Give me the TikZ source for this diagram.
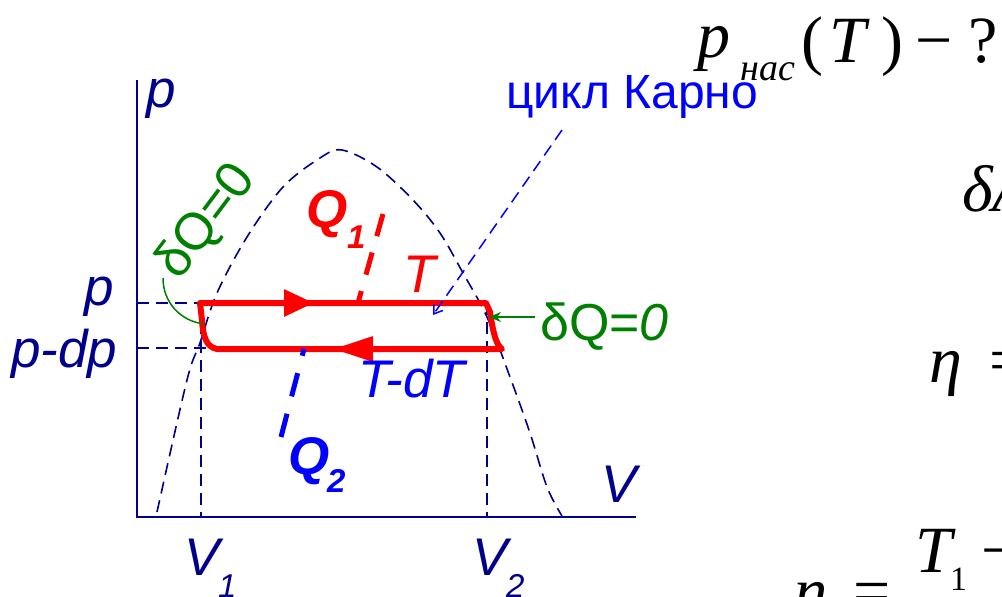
\documentclass[tikz,border=0pt]{standalone}
\usepackage{fontspec}
\setmainfont{Liberation Serif}
\newfontfamily\labf{Liberation Sans}
\usetikzlibrary{arrows.meta}
\definecolor{navyc}{RGB}{0,0,140}
\definecolor{blu}{RGB}{0,0,255}
\definecolor{grn}{RGB}{0,128,0}
\definecolor{rd}{RGB}{255,0,0}
\begin{document}
\begin{tikzpicture}[x=1pt,y=-1pt,
  lab/.style={inner sep=0pt, anchor=base west, font=\labf\itshape\fontsize{53}{60}\selectfont},
  sublab/.style={inner sep=0pt, anchor=base west, font=\labf\itshape\fontsize{33}{40}\selectfont},
  qlab/.style={inner sep=0pt, anchor=base west, font=\labf\bfseries\itshape\fontsize{53}{60}\selectfont},
  qsub/.style={inner sep=0pt, anchor=base west, font=\labf\bfseries\itshape\fontsize{33}{40}\selectfont},
  axisline/.style={navyc, line width=2.5pt},
  guide/.style={navyc, line width=1.6pt, dash pattern=on 12pt off 7pt},
  cycleline/.style={rd, line width=6pt, line join=round},
  heatline/.style={line width=5pt, dash pattern=on 23pt off 17pt},
  thinarrow/.style={line width=1.5pt},
  frm/.style={inner sep=0pt, anchor=base west, font=\fontsize{66}{70}\selectfont},
  frmsub/.style={inner sep=0pt, anchor=base west, font=\fontsize{38}{44}\selectfont},
]
\useasboundingbox (0,0) rectangle (1002,597);

% axes
\coordinate (O) at (137,517);
\coordinate (ytop) at (137,80);
\coordinate (xend) at (636,517);
\draw[axisline] (ytop) -- (O) -- (xend);

% guide lines
\coordinate (pL) at (137,303);
\coordinate (pR) at (200,303);
\coordinate (pdL) at (137,348);
\coordinate (pdR) at (214,348);
\coordinate (v1t) at (201,303);
\coordinate (v1b) at (201,517);
\coordinate (v2t) at (487,303);
\coordinate (v2b) at (487,517);
\draw[guide] (pL) -- (pR);
\draw[guide] (pdL) -- (pdR);
\draw[guide] (v1t) -- (v1b);
\draw[guide] (v2t) -- (v2b);

% saturation dome
\draw[guide] plot[smooth, tension=0.55] coordinates {(157,512) (187,380) (200,343) (217,293) (247,237) (283,187) (320,158) (342,150) (377,167) (413,200) (440,233) (463,273) (487,317) (510,377) (530,433) (547,487) (562,516)};

% Carnot cycle
\draw[cycleline] (200,303) -- (486,303) -- (490,312) .. controls (493,332) and (496,345) .. (502,349) -- (217,349) .. controls (206,347) and (203,336) .. (202,320) -- cycle;
\draw[rd, line width=6pt, -{Triangle[length=30pt,width=26pt]}] (230,303) -- (314,303);
\draw[rd, line width=6pt, -{Triangle[length=40pt,width=24pt]}] (420,349) -- (333,349);

% heat lines
\coordinate (q1a) at (383,214);
\coordinate (q1b) at (358,303);
\draw[rd, heatline] (q1a) -- (q1b);
\coordinate (q2a) at (281,437);
\coordinate (q2b) at (304,349);
\draw[blu, heatline, dash pattern=on 24pt off 18pt] (q2a) -- (q2b);

% labels
\node[lab, navyc] (pax) at (146,107) {p};
\node[lab, navyc] (ptick) at (84,305) {p};
\node[lab, navyc] (pdp) at (11,367) {p-dp};
\node[lab, navyc] (v1) at (184,575) {V};
\node[sublab, navyc] (v1s) at (218,597) {1};
\node[lab, navyc] (v2) at (472,575) {V};
\node[sublab, navyc] (v2s) at (506,597) {2};
\node[lab, navyc] (vax) at (601,502) {V};

\node[qlab, rd] (q1) at (306,227) {Q};
\node[qsub, rd] (q1s) at (347,248) {1};
\node[qlab, blu] (q2) at (288,474) {Q};
\node[qsub, blu] (q2s) at (327,492) {2};
\node[lab, rd] (tt) at (403,292) {T};
\node[lab, blu] (tdt) at (358,397) {T-dT};

\node[inner sep=0pt, anchor=base west, blu, font=\labf\fontsize{48}{56}\selectfont] (carnot) at (506,108) {цикл Карно};
\coordinate (ptrstart) at (562,130);
\coordinate (ptrend) at (433,315);
\draw[blu, thinarrow, dash pattern=on 12pt off 7pt, -{Straight Barb[length=8pt,width=11pt]}] (ptrstart) -- (ptrend);

\node[inner sep=0pt, anchor=base west, grn, font=\labf\fontsize{52}{56}\selectfont] (dqr) at (540,340) {δQ=\textit{0}};
\coordinate (dqrtip) at (489,317);
\draw[grn, thinarrow, -{Stealth[length=12pt,width=10pt]}] (535,317) -- (dqrtip);

\node[inner sep=0pt, grn, rotate=53, font=\labf\fontsize{52}{56}\selectfont] (dql) at (207,222) {δQ=0};
\coordinate (arcA) at (163,278);
\coordinate (arcB) at (204,324);
\draw[grn, thinarrow] (arcA) .. controls (163,302) and (180,321) .. (arcB);

% formulas
\node[frm] (fp) at (697,57) {\itshape p};
\node[frmsub] (fnas) at (740,80) {\itshape нас};
\node[frm] (fpar) at (801,62) {(};
\node[frm] (fT) at (829,62) {\itshape T};
\node[frm] (fpar2) at (881,62) {)};
\node[frm] (fmin) at (915,62) {−};
\node[frm] (fq) at (968,62) {?};

\node[frm] (fdA) at (962,211) {\itshape δA};
\node[frm] (feta) at (929,382) {\itshape η};
\node[frm] (feq) at (989,382) {=};

\node[frm] (feta2) at (794,613) {\itshape η};
\node[frm] (feq2) at (853,613) {=};
\node[frm] (fT1) at (915,572) {\itshape T};
\node[frmsub, font=\fontsize{34}{40}\selectfont] (fT1s) at (950,590) {1};
\node[frm] (fmin2) at (981,572) {−};
\end{tikzpicture}
\end{document}
